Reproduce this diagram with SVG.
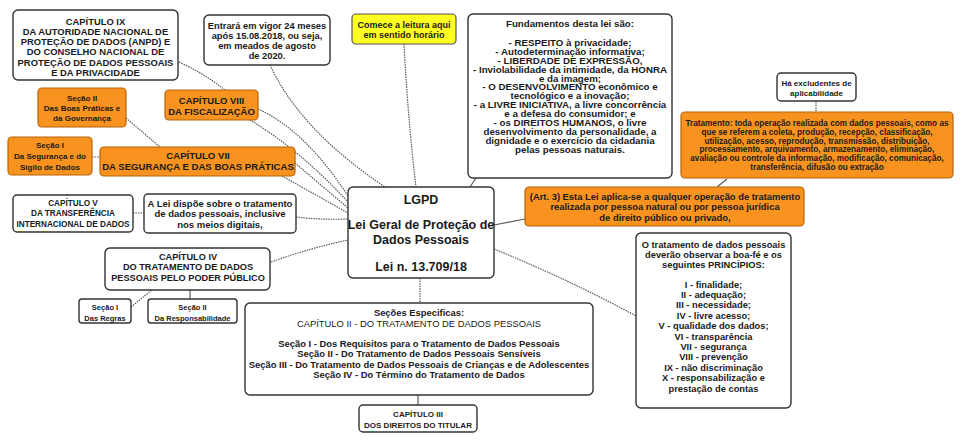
<svg xmlns="http://www.w3.org/2000/svg" width="961" height="445" viewBox="0 0 961 445">
<style>
.w{fill:#fff;stroke:#333;stroke-width:1.4}
.o{fill:#F7931E;stroke:#B8620A;stroke-width:1.2}
.y{fill:#FFFF22;stroke:#555;stroke-width:1.2}
text{font-family:"Liberation Sans",Arial,sans-serif;font-weight:bold;fill:#1a1a1a;text-anchor:middle}
.c path{fill:none;stroke:#5a5a5a;stroke-width:1.2}
.c .d{stroke-dasharray:1.5 1}
.n{font-weight:normal}
</style>
<rect width="961" height="445" fill="#fff"/>
<g class="c" id="connectors">
<path class="d" d="M179,62 Q205,74 225,90"/>
<path class="d" d="M126,118 L160,147"/>
<path class="d" d="M258,109 Q305,130 348,196"/>
<path class="d" d="M250,120 Q300,150 348,202"/>
<path class="d" d="M295,163 L348,208"/>
<path class="d" d="M282,176 L348,213"/>
<path class="d" d="M270,65 Q300,130 385,187"/>
<path class="d" d="M404,44 Q408,120 416,187"/>
<path d="M476,178 L470,187"/>
<path d="M525,219 L494,225"/>
<path d="M727,179 L717,187"/>
<path class="d" d="M816,102 L816,112"/>
<path class="d" d="M494,249 Q570,280 636,316"/>
<path class="d" d="M420,278 L420,303"/>
<path d="M418,395 L418,405"/>
<path class="d" d="M271,262 Q310,248 348,240"/>
<path class="d" d="M131,307 L152,290"/>
<path d="M190,290 L190,299"/>
<path class="d" d="M133,213 L144,213"/>
<path class="d" d="M296,217 Q320,220 348,219"/>
<path class="d" d="M92,157 L100,157"/>
</g>
<g id="cap9"><rect class="w" x="13" y="10" width="165" height="70" rx="5"/>
<text font-size="9.4"><tspan x="95.5" y="24.5">CAPÍTULO IX</tspan><tspan x="95.5" y="34.8">DA AUTORIDADE NACIONAL DE</tspan><tspan x="95.5" y="45.1">PROTEÇÃO DE DADOS (ANPD) E</tspan><tspan x="95.5" y="55.4">DO CONSELHO NACIONAL DE</tspan><tspan x="95.5" y="65.7">PROTEÇÃO DE DADOS PESSOAIS</tspan><tspan x="95.5" y="76">E DA PRIVACIDADE</tspan></text></g>
<g id="secao2bp"><rect class="o" x="38" y="88" width="88" height="39" rx="4"/>
<text font-size="8"><tspan x="82" y="101">Seção II</tspan><tspan x="82" y="111">Das Boas Práticas e</tspan><tspan x="82" y="121">da Governança</tspan></text></g>
<g id="cap8"><rect class="o" x="165" y="90" width="93" height="30" rx="4"/>
<text font-size="9.5"><tspan x="211.5" y="104">CAPÍTULO VIII</tspan><tspan x="211.5" y="114.5">DA FISCALIZAÇÃO</tspan></text></g>
<g id="secao1sd"><rect class="o" x="8" y="137" width="84" height="38" rx="4"/>
<text font-size="8"><tspan x="50" y="148">Seção I</tspan><tspan x="50" y="159">Da Segurança e do</tspan><tspan x="50" y="170">Sigilo de Dados</tspan></text></g>
<g id="cap7"><rect class="o" x="100" y="147" width="195" height="29" rx="4"/>
<text font-size="9.6"><tspan x="198" y="159">CAPÍTULO VII</tspan><tspan x="198" y="169.8">DA SEGURANÇA E DAS BOAS PRÁTICAS</tspan></text></g>
<g id="cap5"><rect class="w" x="13" y="195" width="120" height="37" rx="4"/>
<text font-size="8.2"><tspan x="73" y="206">CAPÍTULO V</tspan><tspan x="73" y="216">DA TRANSFERÊNCIA</tspan><tspan x="73" y="226.5">INTERNACIONAL DE DADOS</tspan></text></g>
<g id="alei"><rect class="w" x="144" y="194" width="152" height="39" rx="4"/>
<text font-size="9.5"><tspan x="220" y="206.5">A Lei dispõe sobre o tratamento</tspan><tspan x="220" y="217">de dados pessoais, inclusive</tspan><tspan x="220" y="227.5">nos meios digitais,</tspan></text></g>
<g id="entrara"><rect class="w" x="204" y="15" width="126" height="50" rx="5"/>
<text font-size="9.3"><tspan x="267" y="28.5">Entrará em vigor 24 meses</tspan><tspan x="267" y="38.8">após 15.08.2018, ou seja,</tspan><tspan x="267" y="49.1">em meados de agosto</tspan><tspan x="267" y="59.4">de 2020.</tspan></text></g>
<g id="comece"><rect class="y" x="352" y="14" width="104" height="30" rx="4"/>
<text font-size="9"><tspan x="404" y="28">Comece a leitura aqui</tspan><tspan x="404" y="37.5">em sentido horário</tspan></text></g>
<g id="fundamentos"><rect class="w" x="468" y="14" width="204" height="164" rx="5"/>
<text font-size="8.7" transform="translate(570,0) scale(1.12,1) translate(-570,0)"><tspan x="570" y="27">Fundamentos desta lei são:</tspan><tspan x="570" y="46">-  RESPEITO à privacidade;</tspan><tspan x="570" y="54.9">- Autodeterminação informativa;</tspan><tspan x="570" y="63.8">- LIBERDADE DE EXPRESSÃO,</tspan><tspan x="570" y="72.7">- Inviolabilidade da intimidade, da HONRA</tspan><tspan x="570" y="81.6">e da imagem;</tspan><tspan x="570" y="90.5">- O DESENVOLVIMENTO econômico e</tspan><tspan x="570" y="99.4">tecnológico e a inovação;</tspan><tspan x="570" y="108.3">- a LIVRE INICIATIVA, a livre concorrência</tspan><tspan x="570" y="117.2">e a defesa do consumidor; e</tspan><tspan x="570" y="126.1">- os DIREITOS HUMANOS, o livre</tspan><tspan x="570" y="135">desenvolvimento da personalidade, a</tspan><tspan x="570" y="143.9">dignidade e o exercício da cidadania</tspan><tspan x="570" y="152.8">pelas pessoas naturais.</tspan></text></g>
<g id="excludentes"><rect class="w" x="777" y="73" width="79" height="28" rx="4"/>
<text font-size="8"><tspan x="816.5" y="86">Há excludentes de</tspan><tspan x="816.5" y="96">aplicabilidade</tspan></text></g>
<g id="tratamento"><rect class="o" x="681" y="112" width="272" height="66" rx="4"/>
<text font-size="8.2"><tspan x="817" y="126">Tratamento: toda operação realizada com dados pessoais, como as</tspan><tspan x="817" y="134.8">que se referem a coleta, produção, recepção, classificação,</tspan><tspan x="817" y="143.6">utilização, acesso, reprodução, transmissão, distribuição,</tspan><tspan x="817" y="152.4">processamento, arquivamento, armazenamento, eliminação,</tspan><tspan x="817" y="161.2">avaliação ou controle da informação, modificação, comunicação,</tspan><tspan x="817" y="170">transferência, difusão ou extração</tspan></text></g>
<g id="art3"><rect class="o" x="525" y="187" width="279" height="39" rx="4"/>
<text font-size="9.4"><tspan x="665" y="199.5">(Art. 3) Esta Lei aplica-se a qualquer operação de tratamento</tspan><tspan x="665" y="210">realizada por pessoa natural ou por pessoa jurídica</tspan><tspan x="665" y="220.5">de direito público ou privado,</tspan></text></g>
<g id="lgpd"><rect class="w" x="348" y="187" width="146" height="91" rx="5"/>
<text font-size="12.5"><tspan x="421" y="203.5">LGPD</tspan><tspan x="421" y="229">Lei Geral de Proteção de</tspan><tspan x="421" y="244">Dados Pessoais</tspan><tspan x="421" y="271">Lei n. 13.709/18</tspan></text></g>
<g id="principios"><rect class="w" x="636" y="233" width="155" height="175" rx="5"/>
<text font-size="9.3"><tspan x="713.5" y="248">O tratamento de dados pessoais</tspan><tspan x="713.5" y="258">deverão observar a boa-fé e os</tspan><tspan x="713.5" y="267.5">seguintes PRINCÍPIOS:</tspan><tspan x="713.5" y="287.5">I - finalidade;</tspan><tspan x="713.5" y="297.9">II - adequação;</tspan><tspan x="713.5" y="308.3">III - necessidade;</tspan><tspan x="713.5" y="318.7">IV - livre acesso;</tspan><tspan x="713.5" y="329.1">V - qualidade dos dados;</tspan><tspan x="713.5" y="339.5">VI - transparência</tspan><tspan x="713.5" y="349.9">VII - segurança</tspan><tspan x="713.5" y="360.3">VIII - prevenção</tspan><tspan x="713.5" y="370.7">IX - não discriminação</tspan><tspan x="713.5" y="381.1">X - responsabilização e</tspan><tspan x="713.5" y="391.5">prestação de contas</tspan></text></g>
<g id="cap4"><rect class="w" x="105" y="248" width="165" height="42" rx="5"/>
<text font-size="9.2"><tspan x="188" y="259.5">CAPÍTULO IV</tspan><tspan x="188" y="270">DO TRATAMENTO DE DADOS</tspan><tspan x="188" y="280.5">PESSOAIS PELO PODER PÚBLICO</tspan></text></g>
<g id="regras"><rect class="w" x="79" y="299" width="52" height="24" rx="3"/>
<text font-size="7.5"><tspan x="105" y="310">Seção I</tspan><tspan x="105" y="320.5">Das Regras</tspan></text></g>
<g id="resp"><rect class="w" x="148" y="299" width="89" height="24" rx="3"/>
<text font-size="7.5"><tspan x="192.5" y="310">Seção II</tspan><tspan x="192.5" y="320.5">Da Responsabilidade</tspan></text></g>
<g id="secoes"><rect class="w" x="245" y="303" width="348" height="92" rx="5"/>
<text font-size="9.4"><tspan x="419" y="316">Seções Especificas:</tspan><tspan class="n" x="419" y="326.5">CAPÍTULO II - DO TRATAMENTO DE DADOS PESSOAIS</tspan><tspan x="419" y="346.5">Seção I - Dos Requisitos para o Tratamento de Dados Pessoais</tspan><tspan x="419" y="357">Seção II - Do Tratamento de Dados Pessoais Sensíveis</tspan><tspan x="419" y="367.5">Seção III - Do Tratamento de Dados Pessoais de Crianças e de Adolescentes</tspan><tspan x="419" y="378">Seção IV - Do Término do Tratamento de Dados</tspan></text></g>
<g id="cap3"><rect class="w" x="359" y="405" width="118" height="27" rx="4"/>
<text font-size="8"><tspan x="418" y="416.5">CAPÍTULO III</tspan><tspan x="418" y="428">DOS DIREITOS DO TITULAR</tspan></text></g>
</svg>
